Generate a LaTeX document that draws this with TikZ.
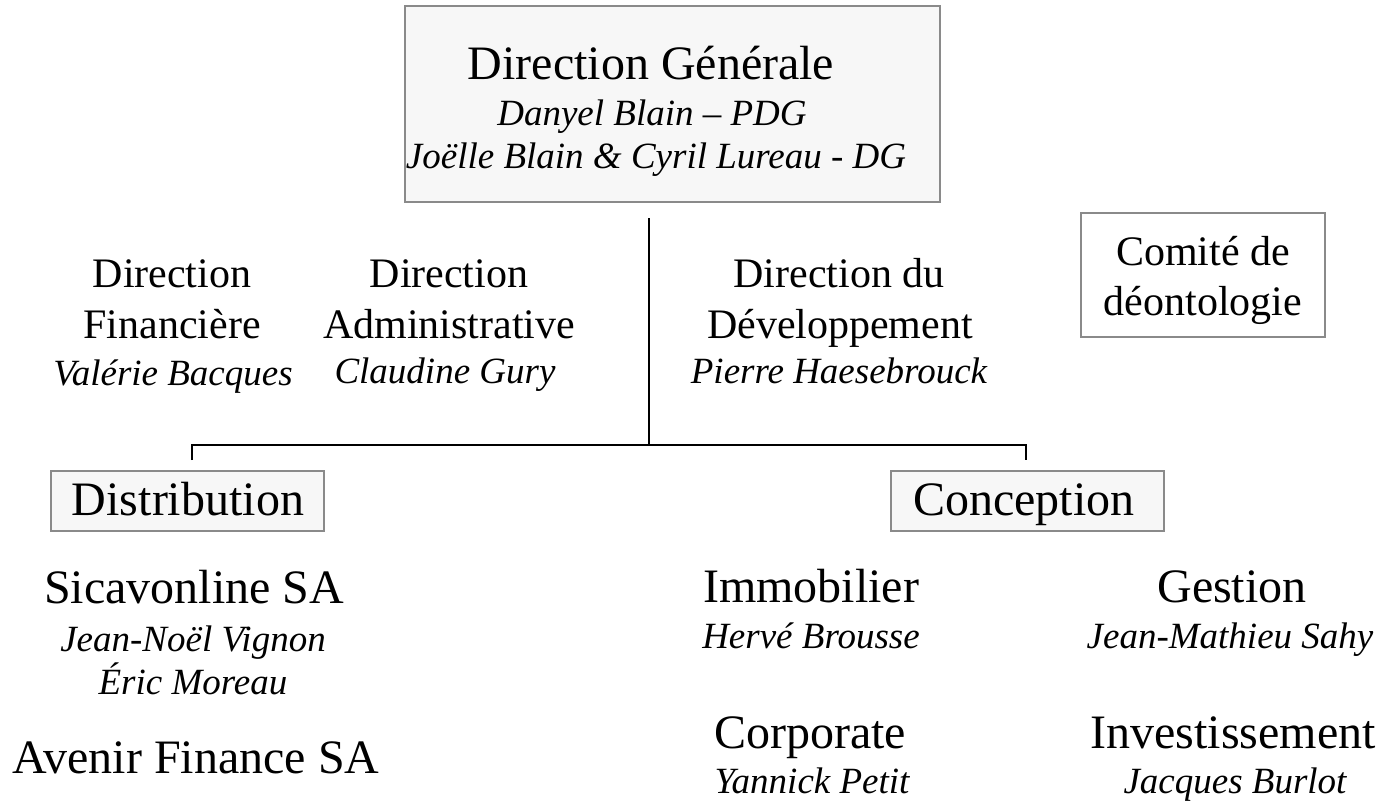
\documentclass[tikz,border=0pt]{standalone}
\usepackage{fontspec}
\setmainfont{Liberation Serif}
\definecolor{boxgray}{HTML}{8A8A8A}
\definecolor{boxfill}{HTML}{F7F7F7}
\begin{document}
\begin{tikzpicture}[x=0.5pt,y=-0.5pt,
  big/.style={font=\fontsize{24}{28}\selectfont, anchor=base, inner sep=0pt},
  title/.style={font=\fontsize{24}{28}\selectfont, anchor=base, inner sep=0pt},
  mid/.style={font=\fontsize{21}{25}\selectfont, anchor=base, inner sep=0pt},
  who/.style={font=\fontsize{18.5}{22}\selectfont\itshape, anchor=base, inner sep=0pt},
  orgbox/.style={draw=boxgray, line width=1pt, fill=boxfill, inner sep=0pt},
  link/.style={draw=black, line width=1pt}]
\useasboundingbox (0,0) rectangle (1389,810);

% boxes
\node[orgbox, minimum width=267.5pt, minimum height=98pt] (topbox) at (672.5,104) {};
\node[orgbox, minimum width=136.5pt, minimum height=30pt] (distbox) at (187.5,501) {};
\node[orgbox, minimum width=136.5pt, minimum height=30pt] (concbox) at (1027.5,501) {};
\node[orgbox, fill=white, minimum width=122pt, minimum height=62pt] (comitebox) at (1203,275) {};

% top box text
\node[title] (dg) at (651,79) {Direction Générale};
\node[who] (dg1) at (652,125) {Danyel Blain – PDG};
\node[who] (dg2) at (656,168) {Joëlle Blain \& Cyril Lureau - DG};

% middle tier
\node[mid] (fin1) at (172,287) {Direction};
\node[mid] (fin2) at (172,338) {Financière};
\node[who] (fin3) at (173,385) {Valérie Bacques};
\node[mid] (adm1) at (449,287) {Direction};
\node[mid] (adm2) at (449,338) {Administrative};
\node[who] (adm3) at (445,383) {Claudine Gury};
\node[mid] (dev1) at (839,287) {Direction du};
\node[mid] (dev2) at (840,338) {Développement};
\node[who] (dev3) at (839,383) {Pierre Haesebrouck};
\node[mid] (com1) at (1203,265) {Comité de};
\node[mid] (com2) at (1203,315) {déontologie};

% second-level boxes text
\node[big] (dist) at (188,515) {Distribution};
\node[big] (conc) at (1024,515) {Conception};

% bottom left
\node[big] (sica) at (194,603) {Sicavonline SA};
\node[who] (sica1) at (193,651) {Jean-Noël Vignon};
\node[who] (sica2) at (193,694) {Éric Moreau};
\node[big] (aven) at (196,773) {Avenir Finance SA};

% bottom right
\node[big] (immo) at (811,602) {Immobilier};
\node[who] (immo1) at (811,648) {Hervé Brousse};
\node[big] (corp) at (810,748) {Corporate};
\node[who] (corp1) at (812,793) {Yannick Petit};
\node[big] (gest) at (1232,602) {Gestion};
\node[who] (gest1) at (1230,648) {Jean-Mathieu Sahy};
\node[big] (inv) at (1233,748) {Investissement};
\node[who] (inv1) at (1235,793) {Jacques Burlot};

% connectors
\coordinate (jt) at (649,218);
\coordinate (jb) at (649,445);
\coordinate (dtop) at (192,460);
\coordinate (ctop) at (1026,460);
\draw[link] (jt) -- (jb);
\draw[link] (dtop) |- (jb) -| (ctop);
\end{tikzpicture}
\end{document}
